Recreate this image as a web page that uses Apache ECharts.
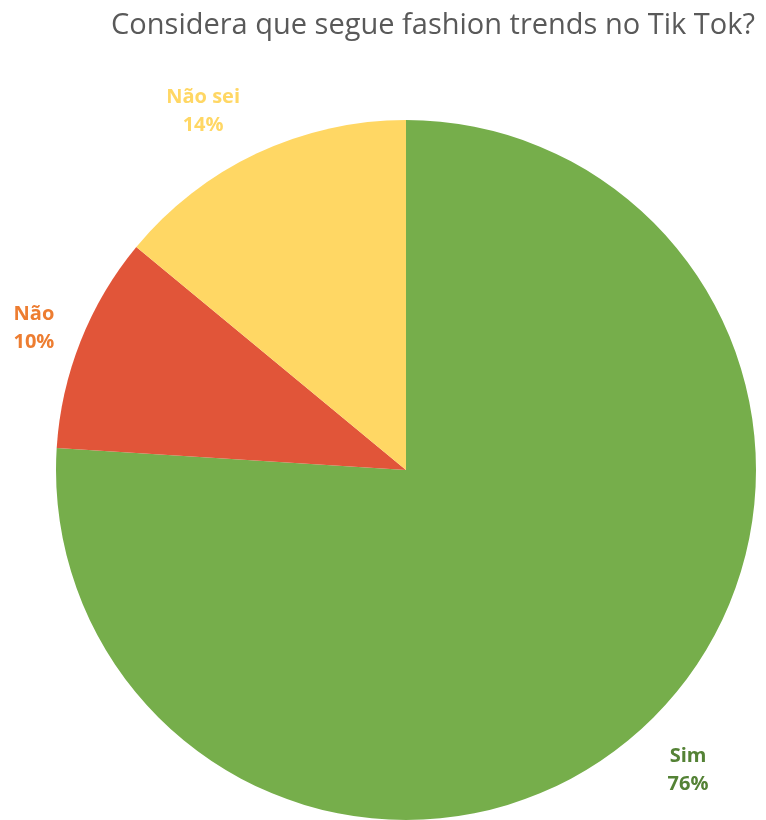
<!DOCTYPE html>
<html><head><meta charset="utf-8">
<script src="https://cdn.jsdelivr.net/npm/echarts@6/dist/echarts.min.js"></script>
<style>html,body{margin:0;padding:0;background:#fff}#c{width:766px;height:820px}</style>
</head><body><div id="c"></div>
<script>
const categories = ['Sim', 'Não', 'Não sei'];
const values = [76, 10, 14];
const labelTexts = ['76%', '10%', '14%'];
const sliceColors = ['#76AE4B', '#E15539', '#FFD764'];
const labelColors = ['#548235', '#ED7D31', '#FFD764'];
const labelOffsets = [62, 48, 62];
const labelAngleShift = [0, -0.8, -4.3];

const CX = 406, CY = 470, R = 350;
const total = values.reduce((a, b) => a + b, 0);
function midAngle(i) {
  let before = 0;
  for (let k = 0; k < i; k++) before += values[k];
  return (before + values[i] / 2) / total * 2 * Math.PI + labelAngleShift[i] * Math.PI / 180;
}

const chart = echarts.init(document.getElementById('c'), null, {renderer: 'canvas'});
chart.setOption({
  animation: false,
  title: {
    text: 'Considera que segue fashion trends no Tik Tok?',
    left: 428, top: 6, textAlign: 'center',
    textStyle: {fontFamily: 'Open Sans', fontSize: 29, fontWeight: 'normal', color: '#595959'}
  },
  series: [{
    type: 'pie',
    center: [CX, CY],
    radius: [0, R],
    startAngle: 90,
    clockwise: true,
    data: categories.map((c, i) => ({
      name: c, value: values[i],
      itemStyle: {color: sliceColors[i]},
      label: {color: labelColors[i]}
    })),
    label: {
      show: true,
      position: 'outside',
      overflow: 'none',
      formatter: p => p.name + '\n' + labelTexts[p.dataIndex],
      fontFamily: 'Open Sans', fontSize: 20, fontWeight: 'bold', lineHeight: 28
    },
    labelLine: {show: false},
    labelLayout: function (params) {
      const i = params.dataIndex;
      const a = midAngle(i);
      const rr = R + labelOffsets[i];
      return {x: CX + rr * Math.sin(a), y: CY - rr * Math.cos(a), align: 'center', verticalAlign: 'middle'};
    }
  }]
});
</script></body></html>
